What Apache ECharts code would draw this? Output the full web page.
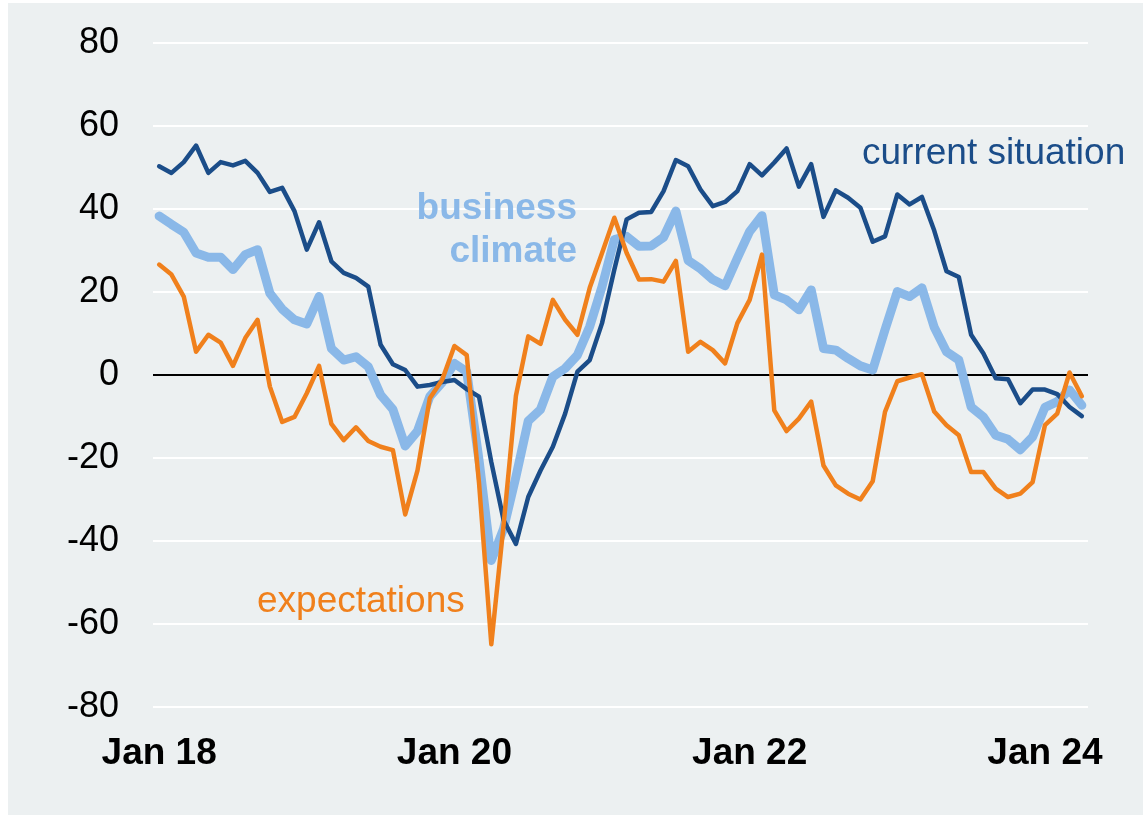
<!DOCTYPE html>
<html>
<head>
<meta charset="utf-8">
<script src="https://cdn.jsdelivr.net/npm/echarts@6/dist/echarts.min.js"></script>
<style>
  html, body { margin: 0; padding: 0; background: #ffffff; }
  #chart { position: absolute; left: 8px; top: 3px; width: 1135px; height: 812px; }
</style>
</head>
<body>
<div id="chart"></div>
<script>
  // monthly, Jan 2018 .. Apr 2024
  var monthNames = ['Jan', 'Feb', 'Mar', 'Apr', 'May', 'Jun', 'Jul', 'Aug', 'Sep', 'Oct', 'Nov', 'Dec']
  var years = ['18', '19', '20', '21', '22', '23', '24']
  var monthCount = 76

  var currentSituation = [
    50.3, 48.7, 51.3, 55.3, 48.7, 51.3, 50.5, 51.6, 48.7, 44.1, 45.1, 39.5,
    30.2, 36.8, 27.4, 24.6, 23.4, 21.3, 7.3, 2.6, 1.2, -2.8, -2.4, -1.7,
    -1.2, -3.4, -5.2, -21.0, -35.0, -40.7, -29.4, -23.0, -17.3, -9.3, 0.8, 3.6,
    12.5, 25.4, 37.5, 39.1, 39.3, 44.3, 51.8, 50.3, 44.7, 40.7, 41.7, 44.3,
    50.8, 48.1, 51.2, 54.6, 45.4, 50.8, 38.1, 44.5, 42.7, 40.3, 32.1, 33.4,
    43.5, 41.1, 42.9, 34.8, 25.0, 23.6, 9.7, 5.2, -0.8, -1.0, -6.8, -3.5,
    -3.5, -4.6, -7.7, -9.9
  ]
  var businessClimate = [
    38.3, 36.3, 34.4, 29.4, 28.4, 28.4, 25.4, 29.0, 30.2, 19.7, 15.9, 13.3,
    12.3, 18.9, 6.4, 3.6, 4.4, 2.0, -4.8, -8.3, -17.1, -13.5, -5.2, -1.8,
    2.8, 0.8, -20.5, -44.7, -37.0, -24.5, -11.1, -8.3, -0.4, 1.6, 4.8, 11.7,
    21.3, 32.6, 33.4, 31.0, 31.1, 33.2, 39.5, 27.6, 25.6, 23.0, 21.5, 28.2,
    34.6, 38.4, 19.3, 18.1, 15.7, 20.5, 6.4, 6.0, 4.0, 2.2, 1.2, 10.9,
    20.1, 18.9, 21.0, 11.5, 5.6, 3.6, -7.7, -10.1, -14.5, -15.5, -18.0, -14.9,
    -7.8, -6.4, -3.6, -7.3
  ]
  var expectations = [
    26.6, 24.2, 18.9, 5.6, 9.7, 7.8, 2.2, 8.9, 13.3, -2.8, -11.3, -10.1,
    -4.4, 2.2, -11.8, -15.7, -12.6, -15.9, -17.3, -18.1, -33.6, -23.0, -5.6, -1.2,
    7.0, 4.8, -26.0, -64.9, -36.0, -5.0, 9.3, 7.5, 18.1, 13.3, 9.7, 21.0,
    29.4, 37.9, 29.4, 23.0, 23.1, 22.5, 27.5, 5.6, 8.0, 6.0, 2.8, 12.5,
    18.1, 29.0, -8.5, -13.5, -10.5, -6.4, -21.8, -26.6, -28.6, -30.0, -25.6, -8.9,
    -1.5, -0.6, 0.2, -8.8, -12.1, -14.5, -23.4, -23.4, -27.4, -29.4, -28.6, -25.8,
    -12.1, -9.3, 0.6, -5.1
  ]

  var categories = []
  for (var i = 0; i < monthCount; i++) {
    categories.push(monthNames[i % 12] + ' ' + years[Math.floor(i / 12)])
  }

  var fontFamily = '"Liberation Sans", Arial, sans-serif'
  var colDark = '#1b4d89'
  var colLight = '#8ab8e8'
  var colOrange = '#f0801c'

  var dom = echarts.init(document.getElementById('chart'))
  var option = {
    backgroundColor: '#ecf0f1',
    animation: false,
    grid: {
      left: 145,
      right: 55,
      top: 40,
      bottom: 108
    },
    xAxis: {
      type: 'category',
      data: categories,
      boundaryGap: true,
      axisLine: { show: false, onZero: false },
      axisTick: { show: false },
      splitLine: { show: false },
      axisLabel: {
        interval: 23,
        margin: 28,
        color: '#000',
        fontSize: 37,
        fontWeight: 'bold',
        fontFamily: fontFamily
      }
    },
    yAxis: {
      type: 'value',
      min: -80,
      max: 80,
      interval: 20,
      axisLine: { show: false },
      axisTick: { show: false },
      axisLabel: {
        margin: 34,
        color: '#000',
        fontSize: 36,
        fontFamily: fontFamily
      },
      splitLine: {
        lineStyle: { color: '#ffffff', width: 2 }
      }
    },
    series: [
      {
        name: 'business climate',
        type: 'line',
        data: businessClimate,
        showSymbol: false,
        lineStyle: { color: colLight, width: 9, cap: 'round', join: 'round' },
        itemStyle: { color: colLight },
        markLine: {
          silent: true,
          symbol: 'none',
          label: { show: false },
          lineStyle: { color: '#000', width: 2, type: 'solid' },
          data: [{ yAxis: 0 }],
          z: 1
        },
        z: 3
      },
      {
        name: 'current situation',
        type: 'line',
        data: currentSituation,
        showSymbol: false,
        lineStyle: { color: colDark, width: 4.5, cap: 'round', join: 'round' },
        itemStyle: { color: colDark },
        z: 4
      },
      {
        name: 'expectations',
        type: 'line',
        data: expectations,
        showSymbol: false,
        lineStyle: { color: colOrange, width: 4.5, cap: 'round', join: 'round' },
        itemStyle: { color: colOrange },
        z: 5
      }
    ],
    graphic: [
      {
        type: 'text', left: 854, top: 132, z: 100,
        style: { text: 'current situation', fill: colDark, font: '37px ' + fontFamily }
      },
      {
        type: 'text', right: 566, top: 187, z: 100,
        style: { text: 'business', fill: colLight, font: 'bold 37px ' + fontFamily, align: 'right' }
      },
      {
        type: 'text', right: 566, top: 230, z: 100,
        style: { text: 'climate', fill: colLight, font: 'bold 37px ' + fontFamily, align: 'right' }
      },
      {
        type: 'text', left: 249, top: 580, z: 100,
        style: { text: 'expectations', fill: colOrange, font: '37px ' + fontFamily }
      }
    ]
  }
  dom.setOption(option)
  window.addEventListener('resize', function () { dom.resize() })
</script>
</body>
</html>
